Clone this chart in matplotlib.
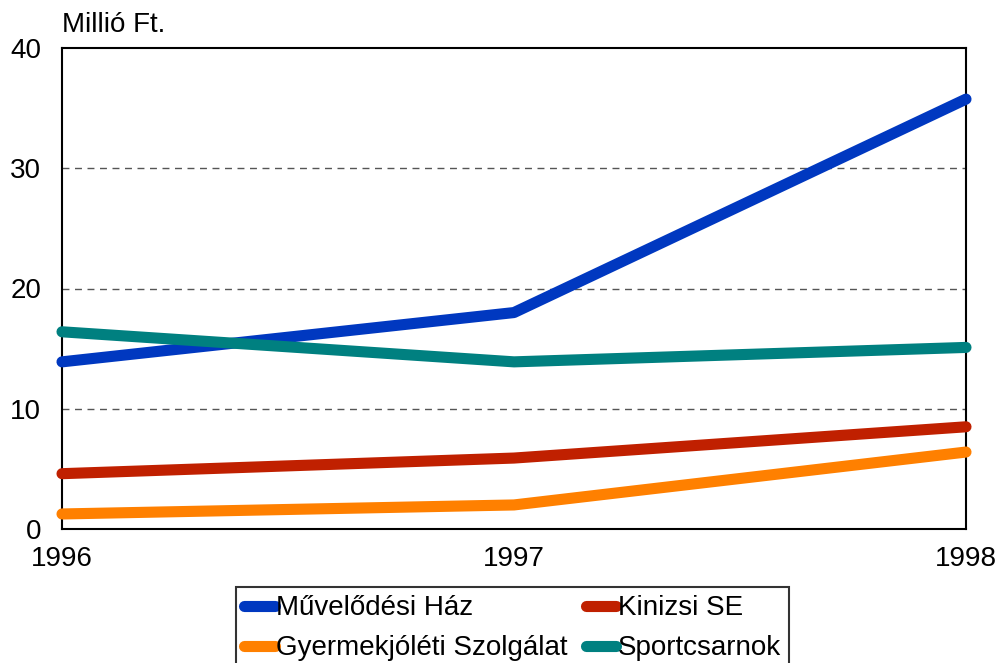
import matplotlib
matplotlib.use("Agg")
import matplotlib.pyplot as plt

plt.rcParams['font.family'] = ['Liberation Sans', 'DejaVu Sans']

years = [1996, 1997, 1998]
muvelodesi = [13.9, 18.0, 35.75]
kinizsi = [4.6, 5.9, 8.5]
gyermek = [1.25, 2.0, 6.4]
sport = [16.4, 13.9, 15.1]

# legend is filled column by column, so this order gives the rows of the original
labels = ['Művelődési Ház', 'Gyermekjóléti Szolgálat', 'Kinizsi SE', 'Sportcsarnok']
colors = ['#0038c0', '#ff8000', '#c02000', '#008080']
series = [muvelodesi, gyermek, kinizsi, sport]

fig = plt.figure(figsize=(9.98, 6.63), dpi=100)
ax = fig.add_axes([62/998, 1-529/663, (966-62)/998, (529-48)/663])

for y in [10, 20, 30]:
    ax.axhline(y, color='#555555', lw=1, ls=(0, (5, 4)), zorder=1)

for vals, lab, c in zip(series, labels, colors):
    ax.plot(years, vals, color=c, lw=8, solid_capstyle='round',
            solid_joinstyle='round', label=lab, zorder=3, clip_on=False)

ax.set_xlim(1996, 1998)
ax.set_ylim(0, 40)
ax.set_xticks(years)
ax.set_xticklabels([str(y) for y in years])
ax.set_yticks([0, 10, 20, 30, 40])
ax.tick_params(length=0, labelsize=20)
ax.tick_params(axis='y', pad=15)
ax.tick_params(axis='x', pad=12)
for s in ax.spines.values():
    s.set_linewidth(1.5)

fig.text(62/998, 1-25/663, 'Millió Ft.', fontsize=20, va='center', ha='left')

leg = fig.legend(loc='upper left', bbox_to_anchor=(236/998, 1-587/663),
                 ncol=2, fontsize=20, frameon=True, fancybox=False,
                 edgecolor='black', handlelength=1.1, handletextpad=0.05,
                 columnspacing=0.65, borderpad=0.3, labelspacing=0.5,
                 borderaxespad=0)
leg.get_frame().set_linewidth(1.5)

fig.savefig('out.png', dpi=100)
